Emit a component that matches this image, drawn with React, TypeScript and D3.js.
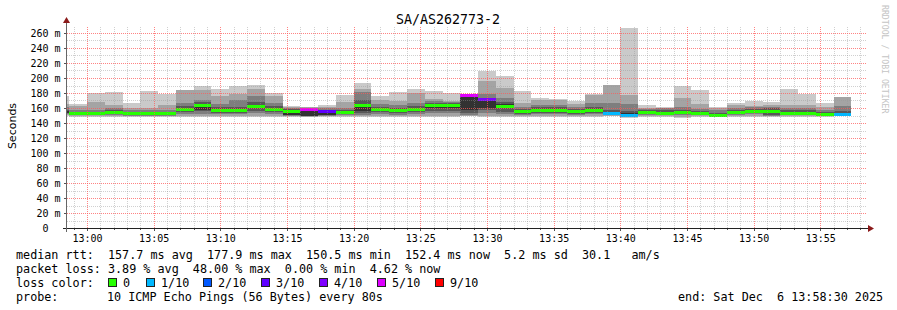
import React from "react";
import * as d3 from "d3";

const TITLE = "SA/AS262773-2";
const Y_LABEL = "Seconds";
const WATERMARK = "RRDTOOL / TOBI OETIKER";

const STEP_SECONDS = 80;
const FIRST_STEP = new Date(2025, 11, 6, 12, 57, 20);
const VIEW_START = new Date(2025, 11, 6, 12, 58, 30);
const VIEW_END = new Date(2025, 11, 6, 13, 58, 30);

const Y_MAX = 268;
const Y_TICKS = [0, 20, 40, 60, 80, 100, 120, 140, 160, 180, 200, 220, 240, 260];
const Y_MINOR = [10, 30, 50, 70, 90, 110, 130, 150, 170, 190, 210, 230, 250];

// median rtt per 80 s step (ms), first entry is the step partly before the view
const medians: (number | null)[] = [
  null, 153, 153, 154.7, 152.7, 153, 153, 159, 164.4, 157.3, 157.3, 162.7, 159, 156.4,
  158.4, 156.4, 154.7, 164, 159, 157, 159, 164, 164.4, 177.9, 172.2, 163.3, 155.6,
  157.8, 157.3, 155.6, 157.8, 153.6, 150.5, 154.7, 153.6, 154.7, 153, 151, 154.3, 156,
  156, 153.7, 154, 152.3, 152.4, null,
];

// lost pings (of 10) per step
const lossCounts: number[] = [
  0, 0, 0, 0, 0, 0, 0, 0, 0, 0, 0, 0, 0, 0, 5, 3, 0, 0, 0, 0, 0, 0, 0, 5, 4, 0, 0, 0,
  0, 0, 0, 1, 1, 0, 0, 0, 0, 0, 0, 0, 0, 0, 0, 0, 1, 0,
];

// sorted ping rtts (ms) per step
const pings: (number | null)[][] = [
  [150, 151, 152, 153, 154, 156, 158, 162, 166, 176],
  [148, 149.5, 150.5, 151.5, 152.5, 153.5, 155, 158, 162.5, 166],
  [148, 149.5, 150.5, 151.5, 152.5, 153.5, 155, 158, 168, 180],
  [147.5, 149, 151, 153, 154, 155.5, 157, 160, 164, 182],
  [148, 149, 150, 151, 152, 153.5, 155, 157, 160, 167],
  [148, 149, 150, 151.5, 152.5, 153.5, 155, 157, 160.5, 183],
  [148, 149, 150, 151.5, 152.5, 153.5, 155, 158, 164, 178],
  [148, 150, 152, 155, 158, 160, 163, 167, 183.5, 184.5],
  [147.5, 150, 152, 156, 157, 166, 168, 171, 184, 189.5],
  [148, 150, 152, 154, 156, 158.5, 161, 166, 176, 185.5],
  [148, 150, 152, 154, 156, 158.5, 162, 170, 178, 189.5],
  [148, 150, 153, 156, 160, 164, 168, 176, 186, 191],
  [148, 150, 152, 155, 157.5, 160, 163, 167, 176, 180],
  [148, 149, 150, 150.7, 151, 157, 158.5, 160, 161.5, 162.7],
  [148, 148.5, 149, 149.5, 150, 158, 159, 160, 161, 161.8],
  [148, 149, 150, 150.5, 151, 156, 158, 160, 162, 164],
  [148, 149.5, 150.5, 152, 153.5, 155.5, 157, 160, 168.4, 177.3],
  [148, 150, 151, 153, 156, 165, 170, 182, 186, 194],
  [148, 150, 152, 155, 157.5, 160, 162, 165, 170.7, 176],
  [147.5, 149, 151, 153, 155.5, 158, 160, 164, 169.3, 181],
  [148, 150, 152, 155, 157.5, 160, 163, 167, 179.6, 185.3],
  [148, 150, 153, 156, 160, 165, 167, 169, 172.4, 182.2],
  [148, 150, 153, 156, 160, 165, 167, 168, 169.3, 179.6],
  [149, 150, 151, 153, 157, 176.5, 177, 177.5, 178, 178.5],
  [148, 150, 153, 157, 160, 172, 174, 178, 196, 209.3],
  [148, 150, 152, 155, 160, 165, 168, 173, 186.2, 202.7],
  [148, 149.5, 151, 152.5, 154.5, 156.5, 158.5, 161, 167, 182.7],
  [148, 150, 152, 154, 156.5, 159, 161, 164, 170.7, 173.8],
  [148, 150, 152, 154, 156, 158.5, 161, 164, 170, 172],
  [148, 149.5, 151, 152.5, 154.5, 156.5, 158.5, 161, 166, 169.8],
  [148, 150, 152, 154, 156.5, 159, 162, 167, 177.5, 178.2],
  [147.5, 149, 150.5, 152, 153, 154.5, 158, 167, 190.7, null],
  [147, 148.5, 150, 151.5, 152.5, 153.5, 156, 164.9, 177.3, 267],
  [148, 149.5, 151, 152.5, 154, 155.5, 157, 159, 160.4, 164],
  [148, 149.5, 150.5, 152, 153, 154.5, 158, 159.5, 160.5, 161.8],
  [146.5, 148.5, 150.5, 152, 154, 155.5, 158, 162, 173.8, 189.3],
  [148, 149.5, 150.5, 152, 153, 154, 156, 159, 164.9, 184],
  [148, 148.5, 149, 150, 150.7, 152, 154, 157, 159.5, 161],
  [148, 149.5, 150.5, 152, 153.5, 155, 157, 160, 164, 166.7],
  [148, 150, 151.5, 153, 155, 157, 159, 161, 163, 168.7],
  [148, 149, 150, 151, 153, 157, 160, 162, 164, 168],
  [148, 149.5, 150.5, 152, 153, 154.5, 157, 160, 164, 186],
  [148, 149.5, 150.5, 152, 153.5, 155, 157, 160, 164, 179],
  [148, 149, 150, 151, 152, 153, 155, 158, 162, 167],
  [148, 149, 150, 151, 152, 153, 156, 163, 175.3, null],
  [],
];

const LOSS_LEVELS = [0, 1, 2, 3, 4, 5, 9];
const LOSS_LABELS = ["0", "1/10", "2/10", "3/10", "4/10", "5/10", "9/10"];
const LOSS_COLORS = ["#26ff00", "#00b8ff", "#0059ff", "#5e00ff", "#7e00ff", "#dd00ff", "#ff0000"];
const SMOKE_COLORS = ["#cacaca", "#a4a4a4", "#7e7e7e", "#585858", "#323232"];

const STATS_LINE_1 =
  "median rtt:  157.7 ms avg  177.9 ms max  150.5 ms min  152.4 ms now  5.2 ms sd  30.1   am/s";
const STATS_LINE_2 = "packet loss: 3.89 % avg  48.00 % max  0.00 % min  4.62 % now";
const LOSS_TITLE = "loss color:";
const PROBE_LABEL = "probe:";
const PROBE_TEXT = "10 ICMP Echo Pings (56 Bytes) every 80s";
const END_TEXT = "end: Sat Dec  6 13:58:30 2025";

const LEGEND_BOX_X = [108, 146, 203, 261, 319, 377, 435];

const MONO = "'DejaVu Sans Mono', monospace";

function lossColor(n: number) {
  for (let i = 0; i < LOSS_LEVELS.length; i++) if (n <= LOSS_LEVELS[i]) return LOSS_COLORS[i];
  return LOSS_COLORS[LOSS_COLORS.length - 1];
}

export default function App() {
  const W = 897;
  const H = 310;
  const left = 67;
  const right = 867;
  const bottom = 228;
  const top = 27;

  const x = d3.scaleTime().domain([VIEW_START, VIEW_END]).range([left, right]);
  const y = d3.scaleLinear().domain([0, Y_MAX]).range([bottom, top]);
  const py = (v: number) => Math.round(y(v));
  const px = (d: Date) => Math.round(x(d));

  const steps = pings.map((p, i) => {
    const s = new Date(FIRST_STEP.getTime() + i * STEP_SECONDS * 1000);
    const e = new Date(s.getTime() + STEP_SECONDS * 1000);
    const x0 = Math.max(left, px(s));
    const x1 = Math.min(right, px(e));
    return { p, x0, x1, med: medians[i], loss: lossCounts[i] };
  });

  const minorMin = x.ticks(d3.timeMinute.every(1)!);
  const majorMin = x.ticks(d3.timeMinute.every(5)!);
  const fmt = d3.timeFormat("%H:%M");
  const majorSet = new Set(majorMin.map((d) => d.getTime()));

  const gridGray = "rgba(150,150,150,0.45)";
  const gridRed = "#ff5a5a";

  return (
    <svg width={W} height={H} style={{ display: "block", position: "absolute", left: 0, top: 0, background: "#fff" }}>
      <rect x={0} y={0} width={W} height={H} fill="#fff" />
      {/* smoke */}
      <g shapeRendering="crispEdges">
        {steps.map((s, i) =>
          s.x1 > s.x0 && s.p.length === 10
            ? SMOKE_COLORS.map((c, k) => {
                const lo = s.p[k];
                const hi = s.p[9 - k];
                if (lo == null || hi == null) return null;
                const y0 = py(hi);
                const y1 = py(lo);
                return <rect key={`s${i}-${k}`} x={s.x0} y={y0} width={s.x1 - s.x0} height={Math.max(1, y1 - y0)} fill={c} />;
              })
            : null
        )}
        {steps.map((s, i) =>
          s.x1 > s.x0 && s.med != null ? (
            <rect key={`m${i}`} x={s.x0} y={py(s.med) - 1} width={s.x1 - s.x0} height={3} fill={lossColor(s.loss)} />
          ) : null
        )}
      </g>
      {/* grid */}
      <g>
        {Y_MINOR.map((v) => (
          <line key={`hm${v}`} x1={left} x2={right} y1={py(v) + 0.5} y2={py(v) + 0.5} stroke={gridGray} strokeDasharray="1,1" />
        ))}
        {minorMin
          .filter((d) => !majorSet.has(d.getTime()))
          .map((d) => (
            <line key={`vm${d.getTime()}`} x1={px(d) + 0.5} x2={px(d) + 0.5} y1={bottom} y2={top} stroke={gridGray} strokeDasharray="1,1" />
          ))}
        {Y_TICKS.filter((v) => v > 0).map((v) => (
          <line key={`hM${v}`} x1={left} x2={right} y1={py(v) + 0.5} y2={py(v) + 0.5} stroke={gridRed} strokeOpacity={0.75} strokeDasharray="1,1" />
        ))}
        {majorMin.map((d) => (
          <line key={`vM${d.getTime()}`} x1={px(d) + 0.5} x2={px(d) + 0.5} y1={bottom} y2={top} stroke={gridRed} strokeOpacity={0.75} strokeDasharray="1,1" />
        ))}
      </g>
      {/* ticks */}
      <g stroke="#555" shapeRendering="crispEdges">
        {Y_TICKS.map((v) => (
          <line key={`yt${v}`} x1={left - 3} x2={left} y1={py(v) + 0.5} y2={py(v) + 0.5} />
        ))}
        {Y_MINOR.map((v) => (
          <line key={`ytm${v}`} x1={left - 1} x2={left} y1={py(v) + 0.5} y2={py(v) + 0.5} />
        ))}
        {minorMin.map((d) => (
          <line key={`xt${d.getTime()}`} x1={px(d) + 0.5} x2={px(d) + 0.5} y1={bottom} y2={bottom + (majorSet.has(d.getTime()) ? 3 : 2)} />
        ))}
      </g>
      {/* axes */}
      <g shapeRendering="crispEdges">
        <line x1={left - 4} x2={right + 2} y1={bottom + 0.5} y2={bottom + 0.5} stroke="#222" />
        <line x1={left - 0.5} x2={left - 0.5} y1={bottom + 4} y2={top - 4} stroke="#666" />
      </g>
      <path d={`M${right + 1},${bottom - 3} L${right + 7},${bottom + 0.5} L${right + 1},${bottom + 4} Z`} fill="#8b1a1a" />
      <path d={`M${left - 4},${top - 4} L${left - 0.5},${top - 10} L${left + 3},${top - 4} Z`} fill="#8b1a1a" />
      {/* y labels */}
      <g fontFamily={MONO} fontSize={10} fill="#000">
        {Y_TICKS.map((v) => (
          <text key={`yl${v}`} x={v === 0 ? 48.5 : 60.5} y={y(v) + 3.6} textAnchor="end">
            {v === 0 ? "0" : `${v} m`}
          </text>
        ))}
        {majorMin.map((d) => (
          <text key={`xl${d.getTime()}`} x={x(d) + 0.5} y={242} textAnchor="middle">
            {fmt(d)}
          </text>
        ))}
      </g>
      <text x={448} y={24} textAnchor="middle" fontFamily={MONO} fontSize={13.3} fill="#000">
        {TITLE}
      </text>
      <text transform="translate(15.5,126) rotate(-90)" textAnchor="middle" fontFamily="'DejaVu Sans', sans-serif" fontSize={11} fill="#000">
        {Y_LABEL}
      </text>
      <text transform="translate(882,5) rotate(90)" fontFamily={MONO} fontSize={8.2} fill="#c4c4c4">
        {WATERMARK}
      </text>
      {/* legend */}
      <g fontFamily={MONO} fontSize={11.75} fill="#000" style={{ whiteSpace: "pre" }}>
        <text x={16} y={258.5} xmlSpace="preserve">{STATS_LINE_1}</text>
        <text x={16} y={272.5} xmlSpace="preserve">{STATS_LINE_2}</text>
        <text x={16} y={286.5}>{LOSS_TITLE}</text>
        {LOSS_LABELS.map((l, i) => (
          <g key={`lg${i}`}>
            <rect x={LEGEND_BOX_X[i] + 0.5} y={278.5} width={8} height={8} fill={LOSS_COLORS[i]} stroke="#222" shapeRendering="crispEdges" />
            <text x={LEGEND_BOX_X[i] + 15} y={286.5}>{l}</text>
          </g>
        ))}
        <text x={16} y={300.5}>{PROBE_LABEL}</text>
        <text x={107} y={300.5}>{PROBE_TEXT}</text>
        <text x={678} y={300.5} xmlSpace="preserve">{END_TEXT}</text>
      </g>
    </svg>
  );
}
